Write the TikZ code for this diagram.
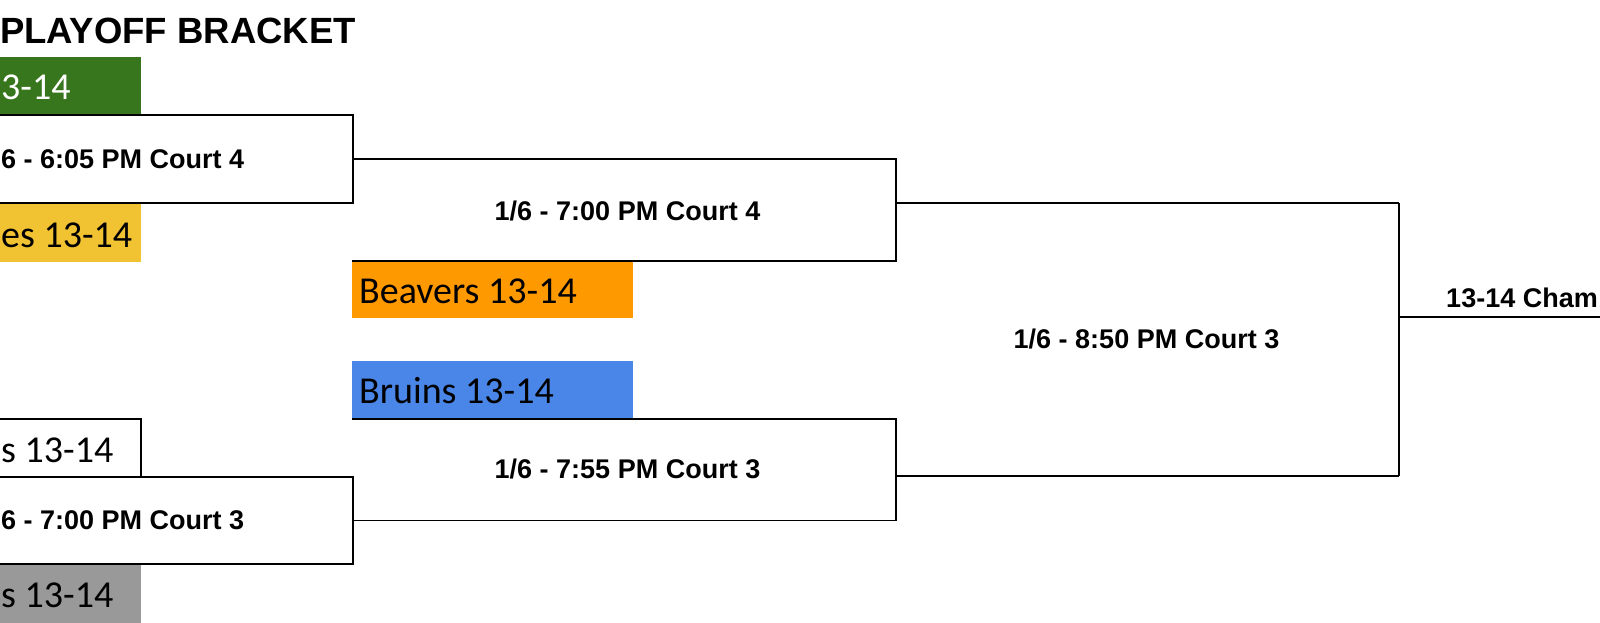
\documentclass[tikz,border=0pt]{standalone}
\usepackage{fontspec}
\setmainfont{Liberation Sans}
\newfontfamily\teamfont{Carlito}
\definecolor{tgreen}{HTML}{38761D}
\definecolor{tyellow}{HTML}{F1C232}
\definecolor{torange}{HTML}{FF9900}
\definecolor{tblue}{HTML}{4A86E8}
\definecolor{tgray}{HTML}{999999}
\begin{document}
\begin{tikzpicture}[x=1pt,y=-1pt,
  teambox/.style={draw=none, inner sep=0pt, outer sep=0pt},
  gamebox/.style={draw=black, line width=1.8pt, fill=white, inner sep=0pt, outer sep=0pt},
  wire/.style={line width=1.8pt, black},
  gamefont/.style={font=\fontsize{27}{32}\selectfont\bfseries, inner sep=0pt},
  teamtext/.style={font=\teamfont\fontsize{38}{44}\selectfont, inner sep=0pt},
  titlefont/.style={font=\fontsize{36.5}{40}\selectfont\bfseries, inner sep=0pt}
]
\useasboundingbox (0,0) rectangle (1600,623);
\clip (0,0) rectangle (1600,623);

% title
\node[titlefont, anchor=base west] (title) at (0,44) {PLAYOFF BRACKET};

% left column team boxes
\node[teambox, fill=tgreen, minimum width=160pt, minimum height=57pt, anchor=north east] (green) at (141,57) {};
\node[teambox, fill=tyellow, minimum width=160pt, minimum height=59pt, anchor=north east] (yellow) at (141,203) {};
\node[gamebox, minimum width=160pt, minimum height=58pt, anchor=north east] (white) at (141,419) {};
\node[teambox, fill=tgray, minimum width=160pt, minimum height=62pt, anchor=north east] (gray) at (141,564) {};

% first round game boxes
\node[gamebox, minimum width=400pt, minimum height=88pt, anchor=north east] (g1) at (353,115) {};
\node[gamebox, minimum width=400pt, minimum height=87pt, anchor=north east] (g3) at (353,477) {};

% second column team boxes
\node[teambox, fill=torange, minimum width=281pt, minimum height=57pt, anchor=north west] (orange) at (352,261) {};
\node[teambox, fill=tblue, minimum width=281pt, minimum height=58pt, anchor=north west] (blue) at (352,361) {};

% team texts
\node[teamtext, text=white, anchor=base west] (greentxt) at (1,100) {3-14};
\node[teamtext, anchor=base west] (yellowtxt) at (1,247) {es 13-14};
\node[teamtext, anchor=base west] (whitetxt) at (1,462) {s 13-14};
\node[teamtext, anchor=base west] (graytxt) at (1,607) {s 13-14};
\node[teamtext, anchor=base west] (orangetxt) at (359,303) {Beavers 13-14};
\node[teamtext, anchor=base west] (bluetxt) at (359,403) {Bruins 13-14};

% game texts
\node[gamefont, anchor=base west] (g1txt) at (1,168) {6 - 6:05 PM Court 4};
\node[gamefont, anchor=base west] (g3txt) at (1,529) {6 - 7:00 PM Court 3};
\node[gamefont, anchor=base] (s1txt) at (627.5,220) {1/6 - 7:00 PM Court 4};
\node[gamefont, anchor=base] (s2txt) at (627.5,478) {1/6 - 7:55 PM Court 3};
\node[gamefont, anchor=base] (ftxt) at (1146.5,348) {1/6 - 8:50 PM Court 3};
\node[gamefont, anchor=base east] (champtxt) at (1598,307) {13-14 Cham};

% bracket corners
\coordinate (b1top) at (896,159);
\coordinate (b1bot) at (896,261);
\coordinate (b1mid) at (896,203);
\coordinate (b2top) at (896,419);
\coordinate (b2bot) at (896,520.5);
\coordinate (b2mid) at (896,476);
\coordinate (ftop) at (1399,203);
\coordinate (fbot) at (1399,476);
\coordinate (fmid) at (1399,317);
\coordinate (champ) at (1605,317);

% connectors
\draw[wire] (g1.east) -- (b1top) -- (b1bot) -- (orange.north west);
\draw[wire] (b1mid) -- (ftop);
\draw[wire] (blue.south west) -- (b2top) -- (b2bot) -- (g3.east);
\draw[wire] (b2mid) -- (fbot);
\draw[wire] (ftop) -- (fbot);
\draw[wire] (fmid) -- (champ);
\end{tikzpicture}
\end{document}
